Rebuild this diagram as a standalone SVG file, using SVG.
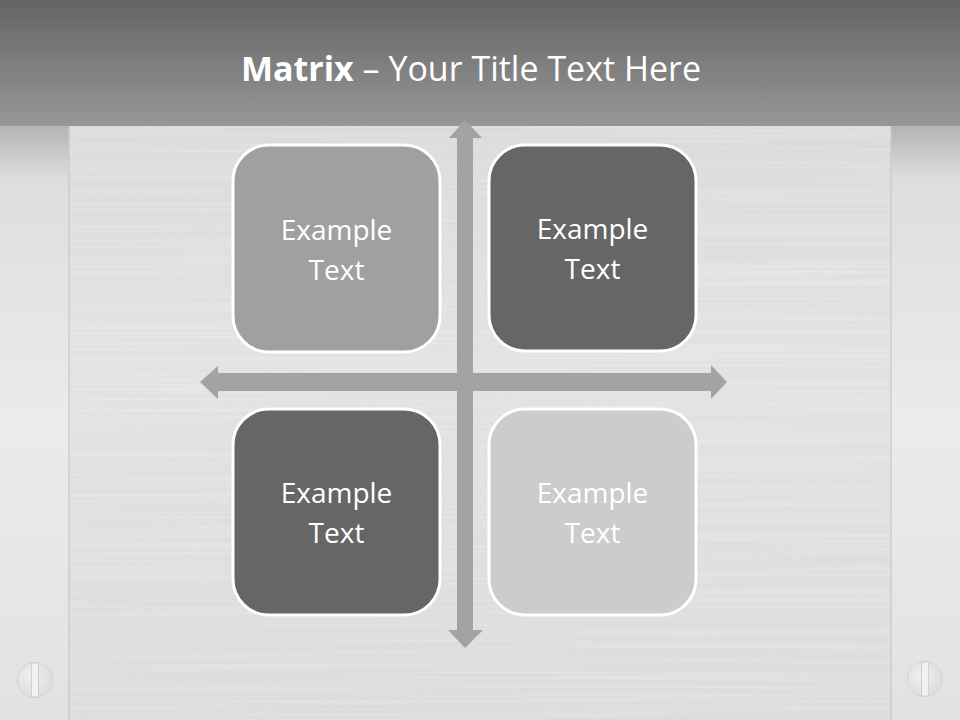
<svg xmlns="http://www.w3.org/2000/svg" width="960" height="720" viewBox="0 0 960 720">
  <defs>
    <linearGradient id="hdr" x1="0" y1="0" x2="0" y2="1">
      <stop offset="0" stop-color="#646464"/>
      <stop offset="1" stop-color="#979797"/>
    </linearGradient>
    <linearGradient id="body" x1="0" y1="0" x2="0" y2="1">
      <stop offset="0" stop-color="#b0b0b0"/>
      <stop offset="0.09" stop-color="#d9d9d9"/>
      <stop offset="0.5" stop-color="#e2e2e2"/>
      <stop offset="1" stop-color="#dcdcdc"/>
    </linearGradient>
    <linearGradient id="side" x1="0" y1="0" x2="0" y2="1">
      <stop offset="0" stop-color="#b4b4b4"/>
      <stop offset="0.09" stop-color="#dedede"/>
      <stop offset="0.5" stop-color="#ebebeb"/>
      <stop offset="1" stop-color="#e2e2e2"/>
    </linearGradient>
    <radialGradient id="screw" cx="0.4" cy="0.4" r="0.7">
      <stop offset="0" stop-color="#f0f0f0"/>
      <stop offset="1" stop-color="#dadada"/>
    </radialGradient>
    <filter id="brush" x="0" y="0" width="1" height="1">
      <feTurbulence type="fractalNoise" baseFrequency="0.002 0.35" numOctaves="2" seed="3" result="n"/>
      <feColorMatrix in="n" type="matrix" values="0 0 0 0 1  0 0 0 0 1  0 0 0 0 1  0.9 0 0 0 -0.35" result="w"/>
      <feComposite in="w" in2="SourceGraphic" operator="in"/>
    </filter>
    <style>
      .box { stroke: #ffffff; stroke-width: 3; }
      .lbl { font-family: "Open Sans", "Liberation Sans", sans-serif; font-size: 28px; fill: #ffffff; text-anchor: middle; }
      .arrow { fill: #a3a3a3; }
    </style>
  </defs>

  <!-- background -->
  <rect x="0" y="0" width="960" height="720" fill="url(#body)"/>
  <rect x="0" y="126" width="960" height="594" fill="#000" filter="url(#brush)" opacity="0.55"/>
  <rect x="0" y="126" width="69" height="594" fill="url(#side)"/>
  <rect x="891" y="126" width="69" height="594" fill="url(#side)"/>
  <rect x="68" y="126" width="2" height="594" fill="#c8c8c8" opacity="0.6"/>
  <rect x="890" y="126" width="2" height="594" fill="#c8c8c8" opacity="0.6"/>
  <rect x="0" y="0" width="960" height="126" fill="url(#hdr)"/>

  <!-- screws -->
  <g id="screw-left">
    <circle cx="35" cy="680" r="17.5" fill="url(#screw)" stroke="#d4d4d4" stroke-width="1"/>
    <rect x="31.5" y="663" width="7" height="34" fill="#f2f2f2" stroke="#d0d0d0" stroke-width="1"/>
  </g>
  <g id="screw-right">
    <circle cx="925" cy="679" r="17.5" fill="url(#screw)" stroke="#d4d4d4" stroke-width="1"/>
    <rect x="921.5" y="662" width="7" height="34" fill="#f2f2f2" stroke="#d0d0d0" stroke-width="1"/>
  </g>

  <!-- title -->
  <text id="title" x="471" y="81" font-family="'Open Sans', 'Liberation Sans', sans-serif" font-size="34" fill="#ffffff" text-anchor="middle"><tspan font-weight="bold">Matrix</tspan> – Your Title Text Here</text>

  <!-- connectors: axes -->
  <g id="axes">
    <path class="arrow" d="M200,382 L218,366 L218,373 L711,373 L711,365 L727,382 L711,399 L711,391 L218,391 L218,399 Z"/>
    <path class="arrow" d="M465,120 L482,138 L473,138 L473,630 L483,630 L465,648 L448,630 L457,630 L457,138 L449,138 Z"/>
  </g>

  <!-- nodes -->
  <g id="node-tl">
    <rect class="box" x="233" y="145" width="207" height="207" rx="36" fill="#a0a0a0"/>
    <text class="lbl" x="336.5" y="240">Example</text>
    <text class="lbl" x="336.5" y="280">Text</text>
  </g>
  <g id="node-tr">
    <rect class="box" x="489" y="145" width="207" height="206" rx="36" fill="#666666"/>
    <text class="lbl" x="592.5" y="239">Example</text>
    <text class="lbl" x="592.5" y="279">Text</text>
  </g>
  <g id="node-bl">
    <rect class="box" x="233" y="409" width="207" height="206" rx="36" fill="#666666"/>
    <text class="lbl" x="336.5" y="503">Example</text>
    <text class="lbl" x="336.5" y="543">Text</text>
  </g>
  <g id="node-br">
    <rect class="box" x="489" y="409" width="207" height="206" rx="36" fill="#cccccc"/>
    <text class="lbl" x="592.5" y="503">Example</text>
    <text class="lbl" x="592.5" y="543">Text</text>
  </g>
</svg>
